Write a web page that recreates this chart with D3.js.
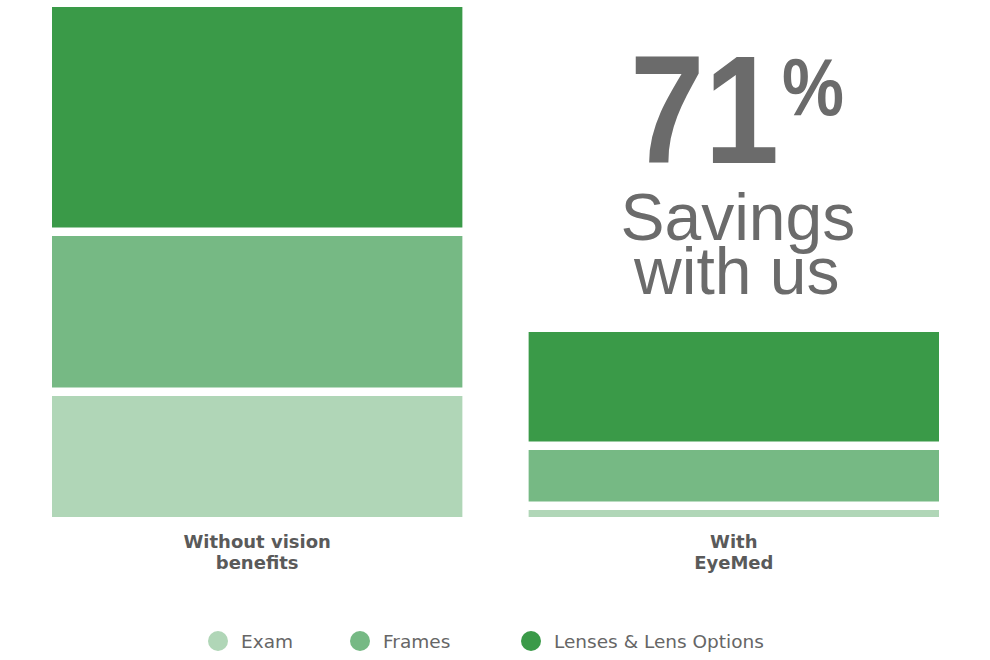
<!DOCTYPE html>
<html>
<head>
<meta charset="utf-8">
<script src="https://cdn.jsdelivr.net/npm/d3@7"></script>
<style>
  html, body { margin: 0; padding: 0; background: #ffffff; }
  svg { display: block; }
</style>
</head>
<body>
<svg id="chart" width="990" height="660"></svg>
<script>
// ---- data ----
const categories = ["Without vision benefits", "With EyeMed"];
const categoryLines = [["Without vision", "benefits"], ["With", "EyeMed"]];
const seriesNames = ["Exam", "Frames", "Lenses & Lens Options"];
const examValues = [121, 7];
const framesValues = [160, 60];
const lensesValues = [229, 118];
const seriesColors = ["#b0d6b7", "#76b984", "#3a9a48"];
const headline = ["71", "%"];
const subline = ["Savings", "with us"];

// ---- build table ----
const table = categories.map((c, i) => ({
  category: c,
  "Exam": examValues[i],
  "Frames": framesValues[i],
  "Lenses & Lens Options": lensesValues[i]
}));
const stacked = d3.stack().keys(seriesNames)(table);

const svg = d3.select("#chart");

const x = d3.scaleBand().domain(categories).range([52, 939]).paddingInner(0.139).paddingOuter(0);
const yMax = d3.max(table, d => d["Exam"] + d["Frames"] + d["Lenses & Lens Options"]);
const y = d3.scaleLinear().domain([0, yMax]).range([517, 7]);
const color = d3.scaleOrdinal().domain(seriesNames).range(seriesColors);
const gap = 8.5;

// bars
svg.append("g").selectAll("g")
  .data(stacked)
  .join("g")
  .attr("fill", d => color(d.key))
  .selectAll("rect")
  .data((d, si) => d.map(p => ({p, si})))
  .join("rect")
  .attr("x", d => x(d.p.data.category))
  .attr("width", x.bandwidth())
  .attr("y", d => y(d.p[1]))
  .attr("height", d => Math.max(0, y(d.p[0]) - y(d.p[1]) - (d.si > 0 ? gap : 0)));

// category labels
const labG = svg.append("g")
  .attr("fill", "#5a5a5a")
  .attr("font-family", "'DejaVu Sans', sans-serif")
  .attr("font-size", 18)
  .attr("font-weight", 700)
  .attr("text-anchor", "middle");
categories.forEach((c, i) => {
  categoryLines[i].forEach((line, j) => {
    labG.append("text")
      .attr("x", x(c) + x.bandwidth() / 2)
      .attr("y", 548 + j * 21)
      .text(line);
  });
});

// headline
const hx = x(categories[1]) + x.bandwidth() / 2;
const bigG = svg.append("g")
  .attr("font-family", "'Liberation Sans', Arial, sans-serif")
  .attr("fill", "#6b6b6b");
bigG.append("text")
  .attr("transform", "translate(630,163) scale(0.87,1)")
  .attr("font-size", 154).attr("font-weight", 700)
  .text(headline[0]);
bigG.append("text")
  .attr("transform", "translate(782,115) scale(0.85,1)")
  .attr("font-size", 82).attr("font-weight", 700)
  .text(headline[1]);
bigG.append("text")
  .attr("x", hx + 4).attr("y", 240)
  .attr("font-size", 66).attr("font-weight", 400)
  .attr("text-anchor", "middle")
  .text(subline[0]);
bigG.append("text")
  .attr("x", hx + 3).attr("y", 294)
  .attr("font-size", 66).attr("font-weight", 400)
  .attr("text-anchor", "middle")
  .text(subline[1]);

// legend
const legendX = [218, 360, 531];
const legG = svg.append("g")
  .attr("font-family", "'DejaVu Sans', sans-serif");
seriesNames.forEach((s, i) => {
  legG.append("circle")
    .attr("cx", legendX[i]).attr("cy", 641).attr("r", 10)
    .attr("fill", color(s));
  legG.append("text")
    .attr("x", legendX[i] + 23).attr("y", 648)
    .attr("font-size", 18.5)
    .attr("fill", "#666666")
    .text(s);
});
</script>
</body>
</html>
